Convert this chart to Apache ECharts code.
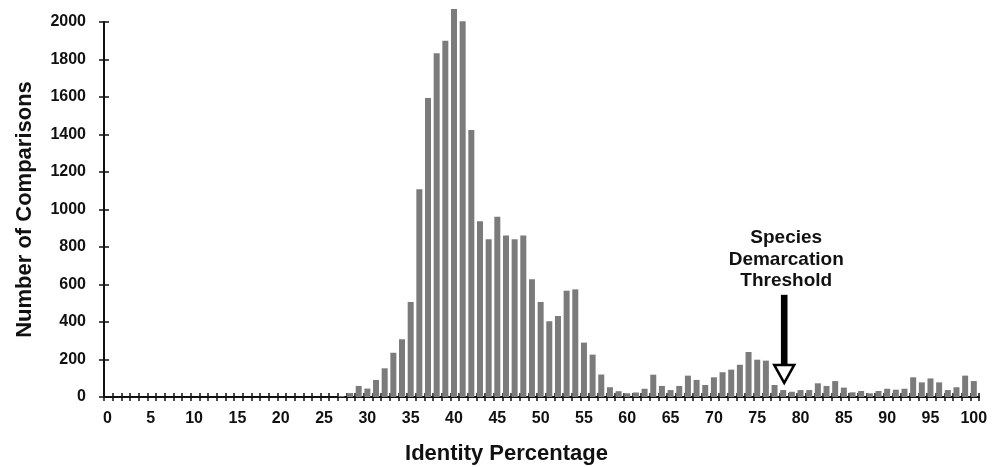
<!DOCTYPE html>
<html>
<head>
<meta charset="utf-8">
<script src="https://cdn.jsdelivr.net/npm/echarts@6/dist/echarts.min.js"></script>
<style>
html,body{margin:0;padding:0;background:#fff;}
#chart{width:997px;height:467px;}
</style>
</head>
<body>
<div id="chart"></div>
<script>
// Identity percentage categories 0..100
const identity = [0,1,2,3,4,5,6,7,8,9,10,11,12,13,14,15,16,17,18,19,20,21,22,23,24,25,26,27,28,29,30,31,32,33,34,35,36,37,38,39,40,41,42,43,44,45,46,47,48,49,50,51,52,53,54,55,56,57,58,59,60,61,62,63,64,65,66,67,68,69,70,71,72,73,74,75,76,77,78,79,80,81,82,83,84,85,86,87,88,89,90,91,92,93,94,95,96,97,98,99,100];
// Number of comparisons per identity percentage
const counts = [0,0,0,0,0,0,0,0,0,0,0,0,0,0,0,0,0,0,0,0,0,0,0,0,0,0,0,
  5,21,59,45,91,153,236,308,507,1108,1595,1833,1900,2069,2004,1424,937,841,962,862,841,862,628,507,404,432,567,574,290,226,120,52,31,20,24,44,
  119,59,37,59,114,91,64,105,132,146,172,240,199,194,64,37,28,37,37,73,59,85,50,25,32,20,32,44,39,44,105,78,99,78,37,52,114,85];
// Tick labels
const xLabels = [0,5,10,15,20,25,30,35,40,45,50,55,60,65,70,75,80,85,90,95,100];
const yLabels = [0,200,400,600,800,1000,1200,1400,1600,1800,2000];
// Annotation
const thresholdValue = 78;
const thresholdText = ['Species', 'Demarcation', 'Threshold'];
const xTitle = 'Identity Percentage';
const yTitle = 'Number of Comparisons';

const FONT = '"Liberation Sans", Arial, Helvetica, sans-serif';
const xMin = -0.4, xMax = 100.6;
const xTicks = [];
for (let k = 0; k <= 101; k++) xTicks.push(+(k + xMin).toFixed(2));

const chart = echarts.init(document.getElementById('chart'), null, {renderer: 'canvas'});
const baseX = {
  type: 'value', min: xMin, max: xMax, gridIndex: 0, position: 'bottom',
  splitLine: {show: false}
};
const baseY = {
  type: 'value', min: 0, max: 2000, interval: 200, position: 'left', gridIndex: 0,
  splitLine: {show: false}
};
const option = {
  animation: false,
  backgroundColor: '#ffffff',
  grid: {left: 104, right: 18, top: 22, bottom: 70, containLabel: false, outerBoundsMode: 'none'},
  xAxis: [
    Object.assign({}, baseX, {
      name: xTitle, nameLocation: 'middle', nameGap: 46,
      nameTextStyle: {fontFamily: FONT, fontWeight: 'bold', fontSize: 22, color: '#111', padding: [0, 70, 0, 0]},
      axisLine: {show: true, onZero: false, lineStyle: {color: '#111', width: 2}},
      axisTick: {show: true, customValues: xTicks, length: 4, lineStyle: {color: '#111', width: 1.5}},
      axisLabel: {show: true, customValues: xLabels, margin: 14, fontFamily: FONT, fontWeight: 'bold', fontSize: 16, color: '#111'}
    }),
    Object.assign({}, baseX, {
      axisLine: {show: false, onZero: false},
      axisTick: {show: true, inside: true, customValues: xTicks, length: 4, lineStyle: {color: '#111', width: 1.5}},
      axisLabel: {show: false}
    })
  ],
  yAxis: [
    Object.assign({}, baseY, {
      name: yTitle, nameLocation: 'middle', nameGap: 68, nameRotate: 90,
      nameTextStyle: {fontFamily: FONT, fontWeight: 'bold', fontSize: 22, color: '#111'},
      axisLine: {show: true, onZero: false, lineStyle: {color: '#111', width: 2}},
      axisTick: {show: true, length: 5, lineStyle: {color: '#111', width: 1.5}},
      axisLabel: {margin: 18, fontFamily: FONT, fontWeight: 'bold', fontSize: 16, color: '#111',
        customValues: yLabels, formatter: v => String(v)}
    }),
    Object.assign({}, baseY, {
      axisLine: {show: false, onZero: false},
      axisTick: {show: true, inside: true, length: 5, lineStyle: {color: '#111', width: 1.5}},
      axisLabel: {show: false}
    })
  ],
  series: [{
    type: 'bar',
    xAxisIndex: 0, yAxisIndex: 0,
    clip: false,
    barWidth: 6,
    itemStyle: {color: '#7b7b7b'},
    data: identity.map((v, i) => [v, counts[i]])
  }]
};
chart.setOption(option);

// Annotation arrow positioned via the axes
const tip = chart.convertToPixel({xAxisIndex: 0, yAxisIndex: 0}, [thresholdValue, 75]);
const shaftTop = chart.convertToPixel({xAxisIndex: 0, yAxisIndex: 0}, [thresholdValue, 545]);
const x = tip[0] + 1;
const headTop = tip[1] - 18;
chart.setOption({
  graphic: [
    {type: 'rect', shape: {x: x - 3.3, y: shaftTop[1], width: 6.6, height: headTop - shaftTop[1]}, style: {fill: '#000'}, z: 100},
    {type: 'polygon', shape: {points: [[x - 10, headTop], [x + 10, headTop], [x, tip[1]]]},
      style: {fill: '#fff', stroke: '#000', lineWidth: 2.5}, z: 101},
    {type: 'text', x: x + 2, y: shaftTop[1] - 3, z: 102,
      style: {text: thresholdText.join('\n'), fontFamily: FONT, fontWeight: 'bold', fontSize: 19, lineHeight: 21.5,
        fill: '#111', align: 'center', verticalAlign: 'bottom'}}
  ]
});
</script>
</body>
</html>
